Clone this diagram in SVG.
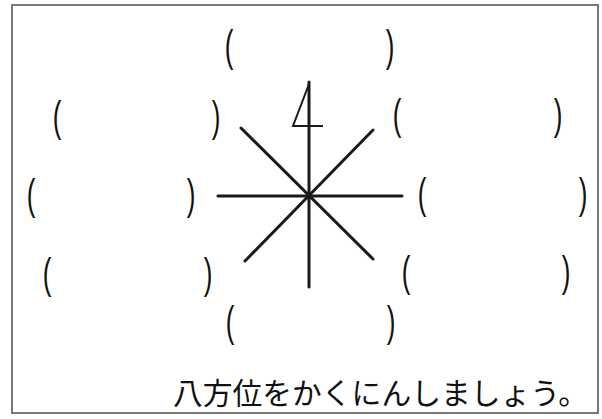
<svg xmlns="http://www.w3.org/2000/svg" width="602" height="419" viewBox="0 0 602 419">
<style>
.frame{fill:#fff;stroke:#777;stroke-width:2}
.ln{stroke:#1a1a1a;stroke-width:3;stroke-linecap:round;fill:none}
.nm{stroke:#1a1a1a;stroke-width:2;fill:none;stroke-linejoin:miter}
.p{font-family:"Liberation Sans",Arial,sans-serif;font-size:26px;fill:#111;text-anchor:middle}
.t{font-family:"Noto Sans CJK JP","Noto Sans",sans-serif;font-size:30px;fill:#111}
</style>
<rect class="frame" x="12" y="5" width="586" height="408"/>
<g id="connectors">
<line class="ln" x1="218" y1="196" x2="402" y2="196"/>
<line class="ln" x1="309" y1="82" x2="309" y2="287"/>
<line class="ln" x1="241" y1="128" x2="373" y2="259"/>
<line class="ln" x1="373" y1="130" x2="245" y2="261"/>
</g>
<g id="north-mark">
<path class="nm" d="M309,84 L293,126 L323,126"/>
</g>
<g id="brackets">
<g id="b-n"><text class="p" transform="translate(229,61) scale(1,1.7)">(</text><text class="p" transform="translate(390,61) scale(1,1.7)">)</text></g>
<g id="b-nw"><text class="p" transform="translate(57,131) scale(1,1.6)">(</text><text class="p" transform="translate(216,131) scale(1,1.6)">)</text></g>
<g id="b-ne"><text class="p" transform="translate(397,129) scale(1,1.6)">(</text><text class="p" transform="translate(558,129) scale(1,1.6)">)</text></g>
<g id="b-w"><text class="p" transform="translate(31,209) scale(1,1.6)">(</text><text class="p" transform="translate(191,209) scale(1,1.6)">)</text></g>
<g id="b-e"><text class="p" transform="translate(422,208) scale(1,1.6)">(</text><text class="p" transform="translate(583,208) scale(1,1.6)">)</text></g>
<g id="b-sw"><text class="p" transform="translate(47,288) scale(1,1.6)">(</text><text class="p" transform="translate(208,288) scale(1,1.6)">)</text></g>
<g id="b-se"><text class="p" transform="translate(406,286) scale(1,1.6)">(</text><text class="p" transform="translate(566,286) scale(1,1.6)">)</text></g>
<g id="b-s"><text class="p" transform="translate(230,336) scale(1,1.6)">(</text><text class="p" transform="translate(391,336) scale(1,1.6)">)</text></g>
</g>
<g id="caption">
<text class="t" x="173" y="404" textLength="415" lengthAdjust="spacingAndGlyphs">八方位をかくにんしましょう。</text>
</g>
</svg>
